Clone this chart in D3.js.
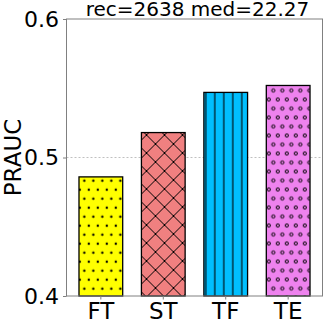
<!DOCTYPE html>
<html>
<head>
<meta charset="utf-8">
<script src="https://cdn.jsdelivr.net/npm/d3@7"></script>
</head>
<body style="margin:0; background:#fff">
<div id="chart"></div>
<script>
// data
const methods = ["FT", "ST", "TF", "TE"];
const prauc = [0.486, 0.518, 0.547, 0.552];
const colors = ["#ffff00", "#f08080", "#00bfff", "#ee82ee"];
const hatches = ["dots", "cross", "vline", "circles"];
const yTicks = [0.4, 0.5, 0.6];
const title = "rec=2638 med=22.27";

const FONT = "DejaVu Sans";
const W = 324, H = 324;
const margin = { top: 19, right: 1.5, bottom: 28, left: 66.5 };
const width = W - margin.left - margin.right;
const height = H - margin.top - margin.bottom;

const svg = d3.select("#chart")
  .append("svg")
  .attr("width", W)
  .attr("height", H);

// hatch patterns, anchored to the page like matplotlib does
const defs = svg.append("defs");
const s = 9;

let p = defs.append("pattern").attr("id", "dots")
  .attr("patternUnits", "userSpaceOnUse")
  .attr("x", 4.3).attr("y", 8.7).attr("width", s).attr("height", 2 * s);
p.append("rect").attr("width", s).attr("height", 2 * s).attr("fill", colors[0]);
[[0, 0], [s, 0], [0, 2 * s], [s, 2 * s], [s / 2, s]].forEach(c => {
  p.append("circle").attr("cx", c[0]).attr("cy", c[1]).attr("r", 1.2).attr("fill", "#000");
});

p = defs.append("pattern").attr("id", "cross")
  .attr("patternUnits", "userSpaceOnUse")
  .attr("x", -1).attr("y", -1).attr("width", 2 * s).attr("height", 2 * s);
p.append("rect").attr("width", 2 * s).attr("height", 2 * s).attr("fill", colors[1]);
p.append("path")
  .attr("d", [-18, 0, 18].map(c => `M-2,${-2 + c}L20,${20 + c}`).join("") +
             [0, 18, 36].map(c => `M-2,${c + 2}L20,${c - 20}`).join(""))
  .attr("stroke", "#000").attr("stroke-width", 1).attr("fill", "none");

p = defs.append("pattern").attr("id", "vline")
  .attr("patternUnits", "userSpaceOnUse")
  .attr("x", 4.3).attr("y", 0).attr("width", s).attr("height", s);
p.append("rect").attr("width", s).attr("height", s).attr("fill", colors[2]);
p.append("path").attr("d", `M0,-1V${s + 1}M${s},-1V${s + 1}`)
  .attr("stroke", "#000").attr("stroke-width", 1.1);

p = defs.append("pattern").attr("id", "circles")
  .attr("patternUnits", "userSpaceOnUse")
  .attr("x", 4.3).attr("y", 8.5).attr("width", s).attr("height", 2 * s);
p.append("rect").attr("width", s).attr("height", 2 * s).attr("fill", colors[3]);
[[0, 0], [s, 0], [0, 2 * s], [s, 2 * s], [s / 2, s]].forEach(c => {
  p.append("circle").attr("cx", c[0]).attr("cy", c[1]).attr("r", 1.6)
    .attr("fill", "none").attr("stroke", "#000").attr("stroke-width", 1);
});

const g = svg.append("g")
  .attr("transform", `translate(${margin.left}, ${margin.top})`);

const x = d3.scaleBand()
  .domain(methods)
  .range([0, width])
  .paddingInner(0.3)
  .paddingOuter(0.2);

const y = d3.scaleLinear()
  .domain([0.4, 0.6])
  .range([height, 0]);

// grid
g.append("g")
  .selectAll("line")
  .data(yTicks.slice(1, -1))
  .join("line")
  .attr("x1", 0).attr("x2", width)
  .attr("y1", d => y(d)).attr("y2", d => y(d))
  .attr("stroke", "#b0b0b0")
  .attr("stroke-width", 0.8)
  .attr("stroke-dasharray", "2,2");

// bars
g.append("g")
  .selectAll("rect")
  .data(methods)
  .join("rect")
  .attr("x", d => x(d))
  .attr("y", (d, i) => y(prauc[i]))
  .attr("width", x.bandwidth())
  .attr("height", (d, i) => y(0.4) - y(prauc[i]))
  .attr("fill", (d, i) => `url(#${hatches[i]})`)
  .attr("stroke", "#000")
  .attr("stroke-width", 1.3);

// axes
const xAxis = g.append("g")
  .attr("transform", `translate(0, ${height})`)
  .call(d3.axisBottom(x).tickSize(3.5).tickPadding(3).tickSizeOuter(0));
const yAxis = g.append("g")
  .call(d3.axisLeft(y).tickValues(yTicks).tickFormat(d3.format(".1f")).tickSize(3.5).tickPadding(4).tickSizeOuter(0));

[xAxis, yAxis].forEach(a => {
  a.attr("font-family", FONT);
  a.select(".domain").remove();
  a.selectAll(".tick line").attr("stroke", "#808080");
  a.selectAll(".tick text").attr("font-family", FONT).attr("fill", "#000");
});
xAxis.selectAll(".tick text").attr("font-size", 23);
yAxis.selectAll(".tick text").attr("font-size", 22);

// frame
g.append("rect")
  .attr("width", width).attr("height", height)
  .attr("fill", "none")
  .attr("stroke", "#808080")
  .attr("stroke-width", 1);

// labels
svg.append("text")
  .attr("transform", `translate(13, ${margin.top + height / 2}) rotate(-90)`)
  .attr("text-anchor", "middle")
  .attr("dominant-baseline", "central")
  .attr("font-family", FONT)
  .attr("font-size", 23)
  .text("PRAUC");

svg.append("text")
  .attr("x", margin.left + width / 2 + 3)
  .attr("y", 16)
  .attr("text-anchor", "middle")
  .attr("font-family", FONT)
  .attr("font-size", 20)
  .text(title);
</script>
</body>
</html>
